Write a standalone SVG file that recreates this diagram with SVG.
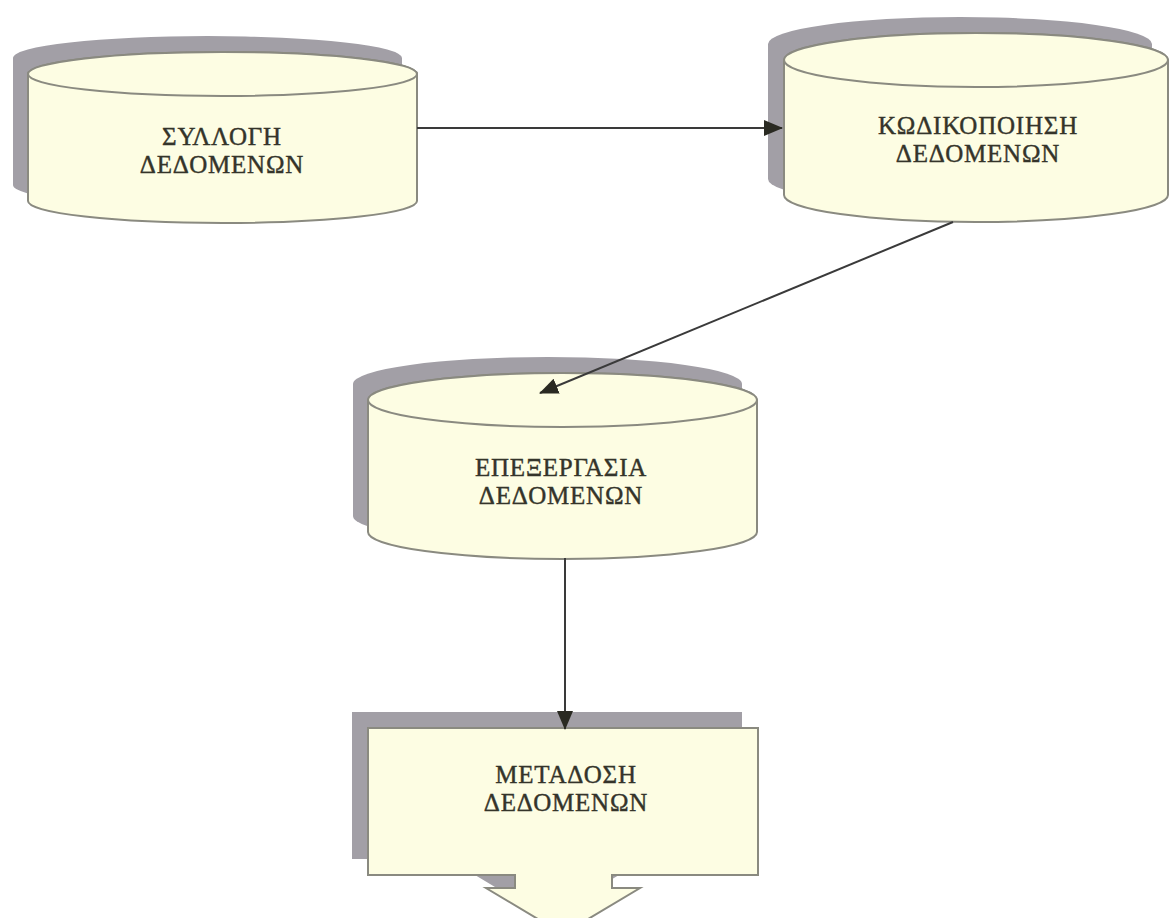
<svg xmlns="http://www.w3.org/2000/svg" width="1171" height="918" viewBox="0 0 1171 918">
<style>
.shadow{fill:#a29fa6;stroke:none}
.body{fill:#fdfde3;stroke:#8a8a80;stroke-width:2}
.lbl{font-family:"Liberation Serif","Times New Roman",serif;font-size:25px;letter-spacing:0.8px;fill:#34342a;stroke:#34342a;stroke-width:0.4;text-anchor:middle}
.conn{stroke:#3a3a3a;stroke-width:2;fill:none}
</style>
<defs>
<marker id="ah" markerWidth="20" markerHeight="16" refX="18" refY="8" orient="auto" markerUnits="userSpaceOnUse">
<path d="M0,0 L19,8 L0,16 Z" fill="#2a2a22"/>
</marker>
</defs>
<rect width="1171" height="918" fill="#ffffff"/>

<g id="node-syllogi">
<path class="shadow" d="M13,58 A194.5,22 0 0 1 402,58 L402,185 A194.5,22 0 0 1 13,185 Z"/>
<path class="body" d="M28,74 A194.5,22 0 0 1 417,74 L417,201 A194.5,22 0 0 1 28,201 Z"/>
<ellipse class="body" cx="222.5" cy="74" rx="194.5" ry="22"/>
<text class="lbl" x="222" y="145">ΣΥΛΛΟΓΗ</text>
<text class="lbl" x="222" y="173">ΔΕΔΟΜΕΝΩΝ</text>
</g>

<g id="node-kodikopoiisi">
<path class="shadow" d="M768,44 A192,27 0 0 1 1152,44 L1152,179 A192,27 0 0 1 768,179 Z"/>
<path class="body" d="M784,60 A192,27 0 0 1 1168,60 L1168,195 A192,27 0 0 1 784,195 Z"/>
<ellipse class="body" cx="976" cy="60" rx="192" ry="27"/>
<text class="lbl" x="978" y="134">ΚΩΔΙΚΟΠΟΙΗΣΗ</text>
<text class="lbl" x="978" y="162">ΔΕΔΟΜΕΝΩΝ</text>
</g>

<g id="node-epexergasia">
<path class="shadow" d="M353,384 A194.5,27 0 0 1 742,384 L742,516 A194.5,27 0 0 1 353,516 Z"/>
<path class="body" d="M368,400 A194.5,27 0 0 1 757,400 L757,532 A194.5,27 0 0 1 368,532 Z"/>
<ellipse class="body" cx="562.5" cy="400" rx="194.5" ry="27"/>
<text class="lbl" x="561" y="476">ΕΠΕΞΕΡΓΑΣΙΑ</text>
<text class="lbl" x="561" y="504">ΔΕΔΟΜΕΝΩΝ</text>
</g>

<g id="node-metadosi">
<path class="shadow" d="M352,712 L742,712 L742,859 L596,859 L596,872 L624,872 L547,918 L470,872 L499,872 L499,859 L352,859 Z"/>
<path class="body" d="M368,728 L758,728 L758,875 L612,875 L612,888 L640,888 L563,934 L486,888 L515,888 L515,875 L368,875 Z"/>
<text class="lbl" x="566" y="783">ΜΕΤΑΔΟΣΗ</text>
<text class="lbl" x="566" y="811">ΔΕΔΟΜΕΝΩΝ</text>
</g>

<g id="connectors">
<line class="conn" x1="417" y1="128" x2="782" y2="128" marker-end="url(#ah)"/>
<line class="conn" x1="953" y1="222" x2="540" y2="393" marker-end="url(#ah)"/>
<line class="conn" x1="565" y1="558" x2="565" y2="729" marker-end="url(#ah)"/>
</g>
</svg>
